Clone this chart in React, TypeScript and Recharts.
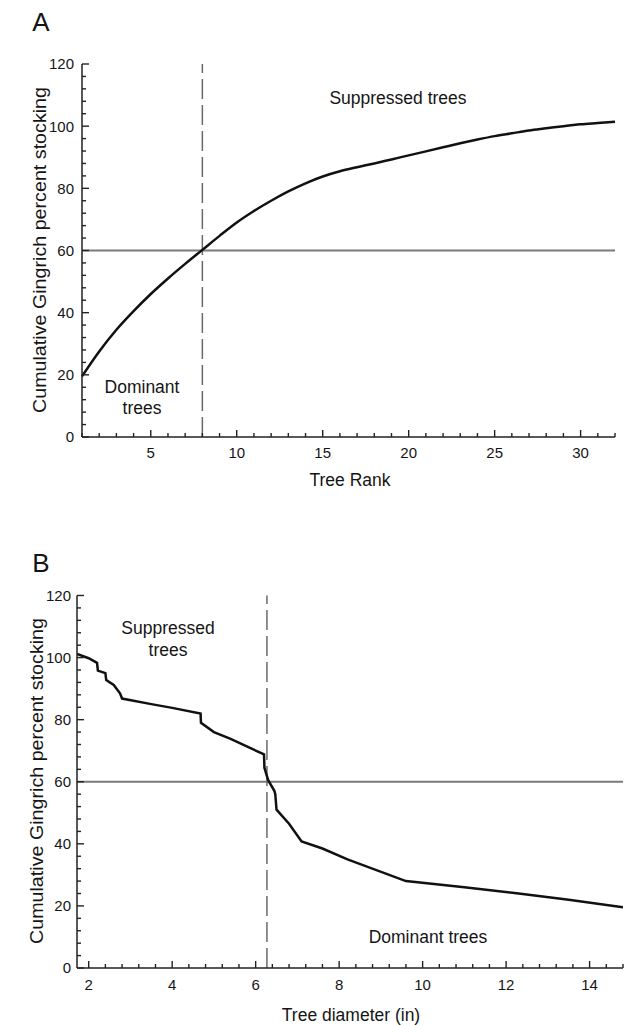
import React from 'react';
import { LineChart, Line, XAxis, YAxis, ReferenceLine } from 'recharts';

// ---------- Data ----------
const rankA = [1, 2, 3, 4, 5, 6, 7, 8, 9, 10, 11, 12, 13, 14, 15, 16, 17, 18, 19, 20, 21, 22, 23, 24, 25, 26, 27, 28, 29, 30, 31, 32];
const stockingA = [19.5, 27.5, 34.5, 40.5, 46.0, 51.0, 55.7, 60.2, 64.7, 69.0, 72.7, 76.0, 79.0, 81.6, 83.8, 85.5, 86.8, 88.0, 89.3, 90.6, 91.9, 93.2, 94.5, 95.7, 96.8, 97.7, 98.6, 99.3, 100.0, 100.6, 101.0, 101.4];

const diameterB = [1.72, 2.0, 2.2, 2.22, 2.4, 2.42, 2.6, 2.75, 2.8, 3.5, 4.0, 4.68, 4.69, 5.0, 5.4, 5.8, 6.2, 6.21, 6.3, 6.45, 6.47, 6.5, 6.8, 7.1, 7.6, 8.2, 9.6, 11.0, 12.3, 13.5, 14.8];
const stockingB = [101.2, 99.8, 98.3, 95.8, 95.0, 92.8, 91.2, 88.5, 86.8, 85.0, 83.8, 82.0, 79.0, 76.0, 73.8, 71.3, 68.8, 64.5, 60.5, 57.0, 56.0, 51.0, 46.5, 40.8, 38.5, 35.0, 28.0, 26.0, 24.0, 22.0, 19.6];

const yMajorTicks = [0, 20, 40, 60, 80, 100, 120];
const yMinorStep = 4;
const xMajorTicksA = [5, 10, 15, 20, 25, 30];
const xMajorTicksB = [2, 4, 6, 8, 10, 12, 14];
const xDomainA: [number, number] = [1, 32];
const xDomainB: [number, number] = [1.72, 14.8];
const thresholdStocking = 60;
const cutRankA = 8;
const cutDiameterB = 6.27;

// axis tick sets (major + minor)
const yTicks = Array.from({ length: 120 / yMinorStep + 1 }, (_, i) => i * yMinorStep);
const xTicksA = Array.from({ length: 32 }, (_, i) => i + 1);
const xTicksB = Array.from({ length: 33 }, (_, i) => Math.round((2 + i * 0.4) * 100) / 100);

const dataA = rankA.map((r, i) => ({ rank: r, stocking: stockingA[i] }));
const dataB = diameterB.map((d, i) => ({ diameter: d, stocking: stockingB[i] }));

// ---------- Styles ----------
const FONT = '"Liberation Sans", Arial, Helvetica, sans-serif';
const INK = '#151515';
const FRAME = '#222222';

const isMajor = (v: number, majors: number[]) => majors.some((m) => Math.abs(m - v) < 1e-6);

const bottomTick = (majors: number[], labelOffset: number, fontSize: number, color: string) => (p: any) => {
  const { x, y, payload } = p;
  const maj = isMajor(payload.value, majors);
  return (
    <g>
      <path d={`M${x},${y}V${y - (maj ? 7 : 4)}`} stroke={color} strokeWidth={1.4} fill="none" />
      {maj && (
        <text x={x} y={y + labelOffset} textAnchor="middle" fontFamily={FONT} fontSize={fontSize} fill={INK}>
          {payload.value}
        </text>
      )}
    </g>
  );
};

const topTick = (majors: number[], color: string) => (p: any) => {
  const { x, y, payload } = p;
  const maj = isMajor(payload.value, majors);
  return <path d={`M${x},${y}V${y + (maj ? 7 : 4)}`} stroke={color} strokeWidth={1.4} fill="none" />;
};

const leftTick = (majors: number[], gap: number, fontSize: number, color: string) => (p: any) => {
  const { x, y, payload } = p;
  const maj = isMajor(payload.value, majors);
  return (
    <g>
      <path d={`M${x},${y}H${x + (maj ? 7 : 4)}`} stroke={color} strokeWidth={1.4} fill="none" />
      {maj && (
        <text x={x - gap} y={y} dy="0.36em" textAnchor="end" fontFamily={FONT} fontSize={fontSize} fill={INK}>
          {payload.value}
        </text>
      )}
    </g>
  );
};

const rightTick = (majors: number[], color: string) => (p: any) => {
  const { x, y, payload } = p;
  const maj = isMajor(payload.value, majors);
  return <path d={`M${x},${y}H${x - (maj ? 7 : 4)}`} stroke={color} strokeWidth={1.4} fill="none" />;
};

function ChartA() {
  return (
    <LineChart width={625} height={500} data={dataA} margin={{ top: 64, right: 10, bottom: 0, left: 0 }}>
      <XAxis
        xAxisId="b"
        dataKey="rank"
        type="number"
        domain={xDomainA}
        ticks={xTicksA}
        interval={0}
        tickSize={0}
        tickMargin={0}
        height={63}
        tickLine={false}
        axisLine={{ stroke: FRAME, strokeWidth: 1.5 }}
        tick={bottomTick(xMajorTicksA, 21, 15, FRAME)}
      />
      <XAxis
        xAxisId="t"
        orientation="top"
        dataKey="rank"
        type="number"
        domain={xDomainA}
        ticks={xTicksA}
        interval={0}
        tickSize={0}
        tickMargin={0}
        height={0}
        tickLine={false}
        axisLine={{ stroke: FRAME, strokeWidth: 1.5 }}
        tick={topTick(xMajorTicksA, FRAME)}
      />
      <YAxis
        yAxisId="l"
        type="number"
        domain={[0, 120]}
        ticks={yTicks}
        interval={0}
        tickSize={0}
        tickMargin={0}
        width={82}
        tickLine={false}
        axisLine={{ stroke: FRAME, strokeWidth: 1.5 }}
        tick={leftTick(yMajorTicks, 8, 15, FRAME)}
      />
      <YAxis
        yAxisId="r"
        orientation="right"
        type="number"
        domain={[0, 120]}
        ticks={yTicks}
        interval={0}
        tickSize={0}
        tickMargin={0}
        width={0}
        tickLine={false}
        axisLine={{ stroke: FRAME, strokeWidth: 1.5 }}
        tick={rightTick(yMajorTicks, FRAME)}
      />
      <ReferenceLine xAxisId="b" yAxisId="l" y={thresholdStocking} stroke="#7a7a7a" strokeWidth={2} />
      <ReferenceLine xAxisId="b" yAxisId="l" x={cutRankA} stroke="#6a6a6a" strokeWidth={1.5} strokeDasharray="20 6" />
      <Line
        xAxisId="b"
        yAxisId="l"
        dataKey="stocking"
        type="monotone"
        stroke="#111"
        strokeWidth={2.5}
        dot={false}
        isAnimationActive={false}
      />
    </LineChart>
  );
}

function ChartB() {
  return (
    <LineChart width={625} height={495} data={dataB} margin={{ top: 65.5, right: 2, bottom: 0, left: 0 }}>
      <XAxis
        xAxisId="b"
        dataKey="diameter"
        type="number"
        domain={xDomainB}
        allowDataOverflow
        ticks={xTicksB}
        interval={0}
        tickSize={0}
        tickMargin={0}
        height={57}
        tickLine={false}
        axisLine={{ stroke: FRAME, strokeWidth: 1.5 }}
        tick={bottomTick(xMajorTicksB, 22, 15, FRAME)}
      />
      <XAxis
        xAxisId="t"
        orientation="top"
        dataKey="diameter"
        type="number"
        domain={xDomainB}
        allowDataOverflow
        ticks={xTicksB}
        interval={0}
        tickSize={0}
        tickMargin={0}
        height={0}
        tickLine={false}
        axisLine={{ stroke: FRAME, strokeWidth: 1.5 }}
        tick={topTick(xMajorTicksB, FRAME)}
      />
      <YAxis
        yAxisId="l"
        type="number"
        domain={[0, 120]}
        ticks={yTicks}
        interval={0}
        tickSize={0}
        tickMargin={0}
        width={77}
        tickLine={false}
        axisLine={{ stroke: FRAME, strokeWidth: 1.5 }}
        tick={leftTick(yMajorTicks, 6, 15, FRAME)}
      />
      <YAxis
        yAxisId="r"
        orientation="right"
        type="number"
        domain={[0, 120]}
        ticks={yTicks}
        interval={0}
        tickSize={0}
        tickMargin={0}
        width={0}
        tickLine={false}
        axisLine={{ stroke: '#b5b5b5', strokeWidth: 1, strokeDasharray: '3 5' }}
        tick={rightTick(yMajorTicks, '#c8c8c8')}
      />
      <ReferenceLine xAxisId="b" yAxisId="l" y={thresholdStocking} stroke="#7a7a7a" strokeWidth={2} />
      <ReferenceLine xAxisId="b" yAxisId="l" x={cutDiameterB} stroke="#6a6a6a" strokeWidth={1.5} strokeDasharray="20 6" />
      <Line
        xAxisId="b"
        yAxisId="l"
        dataKey="stocking"
        type="linear"
        stroke="#111"
        strokeWidth={2.5}
        dot={false}
        isAnimationActive={false}
      />
    </LineChart>
  );
}

const textStyle = { fontFamily: FONT, fill: INK } as const;

function Overlay() {
  return (
    <svg
      width={625}
      height={1025}
      style={{ position: 'absolute', left: 0, top: 0, pointerEvents: 'none' }}
    >
      {/* Panel A */}
      <text x={41} y={31} textAnchor="middle" fontSize={26} {...textStyle}>A</text>
      <text
        x={0}
        y={0}
        transform="translate(40,250) rotate(-90)"
        dy="0.35em"
        textAnchor="middle"
        fontSize={17.5}
        textLength={326}
        lengthAdjust="spacingAndGlyphs"
        {...textStyle}
      >
        Cumulative Gingrich percent stocking
      </text>
      <text x={350} y={486} textAnchor="middle" fontSize={17.5} {...textStyle}>Tree Rank</text>
      <text x={398} y={104} textAnchor="middle" fontSize={17.5} {...textStyle}>Suppressed trees</text>
      <text x={142} y={393} textAnchor="middle" fontSize={17.5} {...textStyle}>Dominant</text>
      <text x={142} y={414} textAnchor="middle" fontSize={17.5} {...textStyle}>trees</text>

      {/* Panel B */}
      <text x={41} y={572} textAnchor="middle" fontSize={26} {...textStyle}>B</text>
      <text
        x={0}
        y={0}
        transform="translate(37,781) rotate(-90)"
        dy="0.35em"
        textAnchor="middle"
        fontSize={17.5}
        textLength={326}
        lengthAdjust="spacingAndGlyphs"
        {...textStyle}
      >
        Cumulative Gingrich percent stocking
      </text>
      <text x={351} y={1021} textAnchor="middle" fontSize={17.5} {...textStyle}>Tree diameter (in)</text>
      <text x={168} y={634} textAnchor="middle" fontSize={17.5} {...textStyle}>Suppressed</text>
      <text x={168} y={656} textAnchor="middle" fontSize={17.5} {...textStyle}>trees</text>
      <text x={428} y={943} textAnchor="middle" fontSize={17.5} {...textStyle}>Dominant trees</text>
    </svg>
  );
}

export default function App() {
  return (
    <div style={{ position: 'absolute', left: 0, top: 0, width: 625, height: 1025, background: '#fff' }}>
      <div style={{ position: 'absolute', left: 0, top: 0 }}>
        <ChartA />
      </div>
      <div style={{ position: 'absolute', left: 0, top: 530 }}>
        <ChartB />
      </div>
      <Overlay />
    </div>
  );
}
